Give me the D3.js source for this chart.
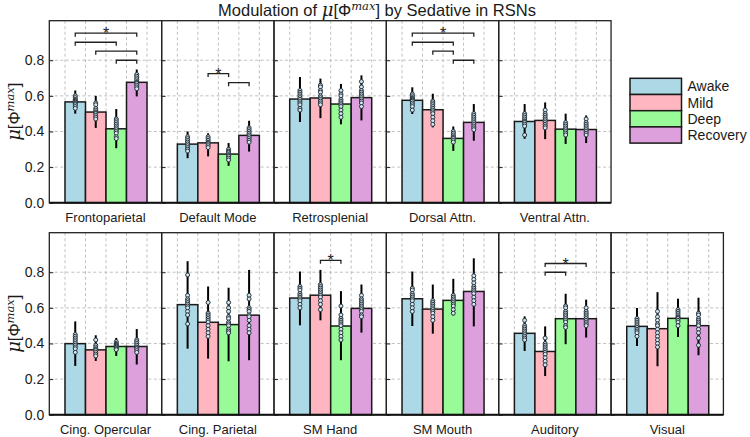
<!DOCTYPE html>
<html>
<head>
<meta charset="utf-8">
<script src="https://cdn.jsdelivr.net/npm/d3@7"></script>
<style>
  body { margin: 0; background: #fff; }
  svg { display: block; font-family: "Liberation Sans", Arial, sans-serif; }
</style>
</head>
<body>
<svg id="chart" width="750" height="437"></svg>
<script>
// ---------- data ----------
const networks = ["Frontoparietal", "Default Mode", "Retrosplenial", "Dorsal Attn.", "Ventral Attn.",
                  "Cing. Opercular", "Cing. Parietal", "SM Hand", "SM Mouth", "Auditory", "Visual"];
const conditions = ["Awake", "Mild", "Deep", "Recovery"];
const colors = ["#add8e6", "#ffb6c1", "#98fb98", "#dda0dd"];
const yTicks = [0.0, 0.2, 0.4, 0.6, 0.8];

// bar heights (mean) per network [Awake, Mild, Deep, Recovery]
const means = [
  [0.566, 0.509, 0.415, 0.676],
  [0.329, 0.336, 0.273, 0.378],
  [0.582, 0.588, 0.554, 0.590],
  [0.575, 0.522, 0.361, 0.451],
  [0.456, 0.462, 0.413, 0.411],
  [0.399, 0.364, 0.383, 0.383],
  [0.618, 0.519, 0.506, 0.559],
  [0.655, 0.671, 0.498, 0.597],
  [0.651, 0.593, 0.642, 0.692],
  [0.457, 0.355, 0.539, 0.539],
  [0.496, 0.483, 0.541, 0.500]
];
// error bar extents [low, high]
const errLow = [
  [0.500, 0.420, 0.306, 0.597],
  [0.250, 0.260, 0.207, 0.287],
  [0.453, 0.475, 0.440, 0.462],
  [0.498, 0.423, 0.291, 0.348],
  [0.359, 0.357, 0.330, 0.335],
  [0.274, 0.302, 0.330, 0.282],
  [0.371, 0.315, 0.300, 0.306],
  [0.502, 0.530, 0.306, 0.461],
  [0.498, 0.455, 0.558, 0.496],
  [0.358, 0.217, 0.396, 0.433],
  [0.386, 0.272, 0.436, 0.334]
];
const errHigh = [
  [0.630, 0.600, 0.526, 0.748],
  [0.400, 0.390, 0.335, 0.460],
  [0.706, 0.697, 0.667, 0.715],
  [0.648, 0.612, 0.428, 0.554],
  [0.554, 0.563, 0.500, 0.490],
  [0.524, 0.446, 0.431, 0.481],
  [0.862, 0.720, 0.713, 0.813],
  [0.804, 0.813, 0.694, 0.731],
  [0.804, 0.731, 0.763, 0.878],
  [0.552, 0.496, 0.679, 0.646],
  [0.599, 0.688, 0.651, 0.657]
];
// individual subject points per network / condition
const points = [
  [[0.60,0.59,0.58,0.575,0.57,0.565,0.56,0.555,0.55,0.54,0.53],
   [0.56,0.55,0.53,0.52,0.51,0.505,0.50,0.49,0.48,0.47],
   [0.47,0.46,0.45,0.44,0.43,0.42,0.41,0.40,0.39,0.37,0.36],
   [0.72,0.71,0.70,0.69,0.68,0.675,0.67,0.66,0.65,0.64]],
  [[0.37,0.36,0.35,0.34,0.33,0.32,0.31,0.30,0.29],
   [0.37,0.36,0.35,0.34,0.335,0.33,0.32,0.31],
   [0.30,0.29,0.285,0.28,0.27,0.265,0.26,0.25,0.24],
   [0.42,0.41,0.40,0.39,0.38,0.37,0.36,0.35,0.34]],
  [[0.63,0.62,0.61,0.60,0.59,0.58,0.57,0.56,0.55,0.53,0.52],
   [0.66,0.65,0.63,0.62,0.60,0.59,0.58,0.57,0.56,0.55],
   [0.63,0.61,0.60,0.58,0.57,0.56,0.55,0.54,0.52,0.50,0.48],
   [0.68,0.65,0.63,0.62,0.61,0.60,0.59,0.58,0.57,0.56,0.54]],
  [[0.61,0.60,0.59,0.585,0.58,0.575,0.57,0.56,0.55,0.54,0.52],
   [0.57,0.56,0.55,0.54,0.53,0.52,0.51,0.50,0.48,0.46,0.44],
   [0.40,0.39,0.38,0.37,0.365,0.36,0.35,0.34],
   [0.50,0.49,0.48,0.47,0.46,0.45,0.44,0.43,0.42,0.41]],
  [[0.50,0.49,0.48,0.47,0.46,0.455,0.45,0.44,0.43,0.38],
   [0.52,0.50,0.49,0.48,0.47,0.46,0.45,0.44,0.43,0.42],
   [0.45,0.44,0.43,0.42,0.41,0.40,0.39,0.38],
   [0.47,0.45,0.44,0.43,0.42,0.41,0.40,0.39,0.38]],
  [[0.45,0.44,0.43,0.42,0.41,0.40,0.39,0.38,0.37,0.35],
   [0.42,0.39,0.38,0.37,0.365,0.36,0.35,0.34,0.33],
   [0.41,0.40,0.395,0.39,0.385,0.38,0.375,0.37,0.365],
   [0.42,0.41,0.40,0.39,0.38,0.375,0.37,0.36,0.35]],
  [[0.785,0.67,0.65,0.64,0.63,0.62,0.61,0.60,0.58,0.56,0.51],
   [0.63,0.57,0.56,0.55,0.54,0.53,0.52,0.50,0.48,0.46,0.44],
   [0.63,0.60,0.58,0.55,0.54,0.52,0.51,0.50,0.48,0.47,0.46],
   [0.67,0.65,0.60,0.59,0.58,0.56,0.55,0.53,0.50,0.48,0.46]],
  [[0.72,0.71,0.70,0.68,0.67,0.66,0.65,0.64,0.62,0.60],
   [0.73,0.72,0.71,0.70,0.69,0.68,0.67,0.66,0.64,0.62,0.59],
   [0.61,0.56,0.54,0.53,0.52,0.51,0.50,0.48,0.46,0.44,0.42],
   [0.67,0.65,0.64,0.63,0.62,0.61,0.60,0.59,0.58,0.56,0.55]],
  [[0.71,0.70,0.68,0.67,0.66,0.65,0.64,0.62,0.60,0.58],
   [0.64,0.63,0.62,0.61,0.60,0.59,0.58,0.57,0.55,0.53],
   [0.67,0.66,0.65,0.64,0.63,0.62,0.61,0.59,0.57],
   [0.78,0.76,0.74,0.72,0.71,0.70,0.69,0.68,0.66,0.64,0.62]],
  [[0.53,0.50,0.49,0.48,0.47,0.46,0.45,0.44,0.43,0.42],
   [0.43,0.40,0.39,0.38,0.37,0.36,0.35,0.34,0.32,0.30,0.28],
   [0.61,0.60,0.58,0.57,0.56,0.55,0.54,0.53,0.52,0.50,0.49],
   [0.60,0.58,0.57,0.56,0.55,0.54,0.53,0.52,0.51,0.50]],
  [[0.54,0.53,0.52,0.51,0.50,0.49,0.48,0.47,0.46,0.44],
   [0.58,0.55,0.53,0.51,0.50,0.48,0.46,0.44,0.42,0.40,0.38],
   [0.59,0.58,0.57,0.56,0.55,0.545,0.54,0.53,0.52,0.50],
   [0.57,0.56,0.54,0.53,0.52,0.51,0.50,0.48,0.46,0.43,0.39]]
];
// significance brackets: [network index, from cond, to cond, level, star]
const brackets = [
  [0, 0, 3, 0.952, true], [0, 0, 2, 0.901, false], [0, 1, 3, 0.851, false], [0, 2, 3, 0.800, false],
  [1, 1, 2, 0.725, true], [1, 2, 3, 0.674, false],
  [3, 0, 3, 0.952, true], [3, 0, 2, 0.901, false], [3, 1, 2, 0.851, false], [3, 2, 3, 0.800, false],
  [7, 1, 2, 0.867, true],
  [9, 1, 3, 0.849, true], [9, 1, 2, 0.800, false]
];

// ---------- layout ----------
const svg = d3.select("#chart");
const left0 = 49.3, colW = 112.35, rowH = 182;
const rowTop = [20.7, 232.7];
const yMax = 1.022;

function panelPos(i) {
  const row = i < 5 ? 0 : 1;
  const col = i < 5 ? i : i - 5;
  return { row, col, x: left0 + col * colW, y: rowTop[row] };
}

// title
const title = svg.append("text")
  .attr("x", 377).attr("y", 16)
  .attr("text-anchor", "middle")
  .attr("font-size", 16.5).attr("fill", "#1a1a1a");
title.append("tspan").text("Modulation of ");
title.append("tspan").attr("font-family", "DejaVu Serif").attr("font-style", "italic").attr("font-size", 18).text("μ");
title.append("tspan").text("[Φ");
title.append("tspan").attr("font-family", "DejaVu Serif").attr("font-style", "italic")
  .attr("font-size", 11.5).attr("dy", -6.5).text("max");
title.append("tspan").attr("dy", 6.5).text("] by Sedative in RSNs");

// y labels
[0, 1].forEach(r => {
  const cy = rowTop[r] + rowH / 2;
  const t = svg.append("text")
    .attr("transform", `translate(20,${cy}) rotate(-90)`)
    .attr("text-anchor", "middle")
    .attr("font-size", 16.5).attr("fill", "#1a1a1a");
  t.append("tspan").attr("font-family", "DejaVu Serif").attr("font-style", "italic").attr("font-size", 18).text("μ");
  t.append("tspan").text("[Φ");
  t.append("tspan").attr("font-family", "DejaVu Serif").attr("font-style", "italic")
    .attr("font-size", 11.5).attr("dy", -6.5).text("max");
  t.append("tspan").attr("dy", 6.5).text("]");
});

networks.forEach((name, ni) => {
  const p = panelPos(ni);
  const g = svg.append("g");
  const y = d3.scaleLinear().domain([0, yMax]).range([p.y + rowH, p.y]);
  const x = d3.scaleBand().domain(conditions).range([p.x + 15.7, p.x + 97.7]).padding(0);
  const bw = x.bandwidth();

  // grid
  const gridX = conditions.map(c => x(c)).concat([x(conditions[3]) + bw]);
  g.selectAll(".vg").data(gridX).enter().append("line")
    .attr("x1", d => d).attr("x2", d => d)
    .attr("y1", p.y).attr("y2", p.y + rowH)
    .attr("stroke", "#b0b0b0").attr("stroke-width", 0.8).attr("stroke-dasharray", "3,2.5");
  g.selectAll(".hg").data(yTicks.slice(1)).enter().append("line")
    .attr("x1", p.x).attr("x2", p.x + colW)
    .attr("y1", d => y(d)).attr("y2", d => y(d))
    .attr("stroke", "#b0b0b0").attr("stroke-width", 0.8).attr("stroke-dasharray", "3,2.5");

  // bars
  g.selectAll(".bar").data(means[ni]).enter().append("rect")
    .attr("x", (d, i) => x(conditions[i]))
    .attr("y", d => y(d))
    .attr("width", bw)
    .attr("height", d => y(0) - y(d))
    .attr("fill", (d, i) => colors[i])
    .attr("stroke", "#1a1a1a").attr("stroke-width", 1.5);

  // error bars
  g.selectAll(".err").data(conditions).enter().append("line")
    .attr("x1", c => x(c) + bw / 2).attr("x2", c => x(c) + bw / 2)
    .attr("y1", (c, i) => y(errLow[ni][i]))
    .attr("y2", (c, i) => y(errHigh[ni][i]))
    .attr("stroke", "#000").attr("stroke-width", 2);

  // points
  conditions.forEach((c, ci) => {
    g.selectAll(null).data(points[ni][ci]).enter().append("circle")
      .attr("cx", x(c) + bw / 2)
      .attr("cy", d => y(d))
      .attr("r", 2)
      .attr("fill", "#d6e6ee")
      .attr("stroke", "#25323b").attr("stroke-width", 1);
  });

  // y ticks (inward)
  const axis = d3.axisRight(y).tickValues(yTicks).tickSize(4).tickFormat("");
  const ag = g.append("g").attr("transform", `translate(${p.x},0)`).call(axis);
  ag.select(".domain").remove();
  ag.selectAll("line").attr("stroke", "#222").attr("stroke-width", 1);

  if (p.col === 0) {
    g.selectAll(".tl").data(yTicks).enter().append("text")
      .attr("x", p.x - 5).attr("y", d => y(d) + 5)
      .attr("text-anchor", "end").attr("font-size", 14).attr("fill", "#1a1a1a")
      .text(d => d.toFixed(1));
  }

  // frame
  g.append("rect")
    .attr("x", p.x).attr("y", p.y).attr("width", colW).attr("height", rowH)
    .attr("fill", "none").attr("stroke", "#222").attr("stroke-width", 1.3);
  g.append("line")
    .attr("x1", p.x).attr("x2", p.x + colW).attr("y1", p.y + rowH).attr("y2", p.y + rowH)
    .attr("stroke", "#111").attr("stroke-width", 2);

  // x label
  g.append("text")
    .attr("x", p.x + colW / 2).attr("y", p.y + rowH + 19)
    .attr("text-anchor", "middle").attr("font-size", 13).attr("fill", "#1a1a1a")
    .text(name);

  // brackets
  brackets.filter(b => b[0] === ni).forEach(b => {
    const x1 = x(conditions[b[1]]) + bw / 2, x2 = x(conditions[b[2]]) + bw / 2;
    const yl = y(b[3]);
    g.append("path")
      .attr("d", `M${x1},${yl + 3.5}V${yl}H${x2}V${yl + 3.5}`)
      .attr("fill", "none").attr("stroke", "#222").attr("stroke-width", 1.3);
    if (b[4]) {
      g.append("text")
        .attr("x", (x1 + x2) / 2).attr("y", yl + 6)
        .attr("text-anchor", "middle").attr("font-size", 16).attr("fill", "#222")
        .text("*");
    }
  });
});

// legend
const lg = svg.append("g");
const lx = 630, ly = 78.3, lw = 51.5, lh = 16.2;
lg.selectAll("rect").data(conditions).enter().append("rect")
  .attr("x", lx).attr("y", (d, i) => ly + i * lh)
  .attr("width", lw).attr("height", lh)
  .attr("fill", (d, i) => colors[i])
  .attr("stroke", "#1a1a1a").attr("stroke-width", 1.5);
lg.selectAll("text").data(conditions).enter().append("text")
  .attr("x", lx + lw + 6).attr("y", (d, i) => ly + i * lh + lh / 2 + 5)
  .attr("font-size", 14).attr("fill", "#1a1a1a")
  .text(d => d);
</script>
</body>
</html>
